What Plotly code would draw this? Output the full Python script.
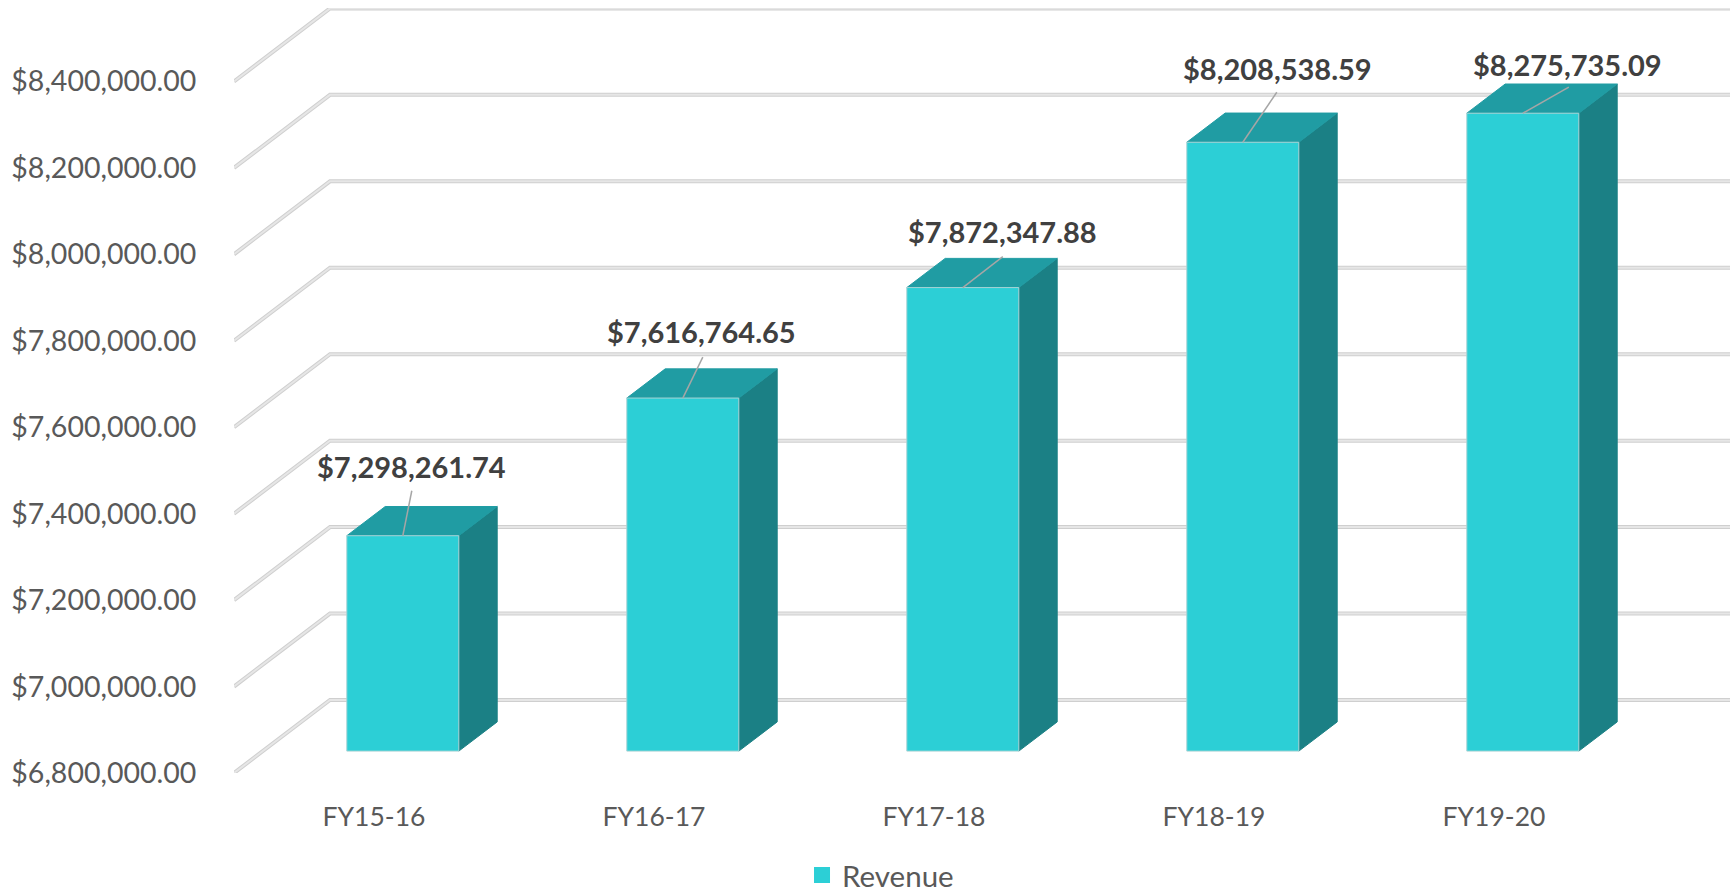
import plotly.graph_objects as go

categories = ["FY15-16", "FY16-17", "FY17-18", "FY18-19", "FY19-20"]
revenue = [7298261.74, 7616764.65, 7872347.88, 8208538.59, 8275735.09]
tick_values = [6800000, 7000000, 7200000, 7400000, 7600000, 7800000, 8000000, 8200000, 8400000]
series_name = "Revenue"

# pixel offsets of the data labels and leader ends from the bar's front-top centre
label_dx = [9, 19, 40, 35, 45]
label_dy = [-69, -67, -56, -74, -49]
leader_dx = [9, 20, 40, 34, 46]
leader_dy = [-45, -41, -31, -50, -26]

# layout in pixels
W, H = 1735, 896
L, R, T, B = 234, 5, 8, 123
SLOT = 280.0
PX_PER_VAL = 86.45 / 200000.0
DEPTH_PX_X, DEPTH_PX_Y = 96.0, 73.0

x_lo = -0.5
x_hi = x_lo + (W - L - R) / SLOT
y_lo = tick_values[0]
y_hi = y_lo + (H - T - B) / PX_PER_VAL
DX = DEPTH_PX_X / SLOT
DY = DEPTH_PX_Y / PX_PER_VAL

BAR_W = 0.4
D0, D1 = 0.3, 0.7
FRONT, TOP, SIDE = "#2CCFD6", "#209CA3", "#1B8085"
EDGE = "#A9D3D5"
FONT = "Lato"

fig = go.Figure()

# walls: floor/side diagonal + back wall line for each gridline
gx, gy = [], []
for v in tick_values:
    gx += [x_lo, x_lo + DX, x_hi, None]
    gy += [v, v + DY, v + DY, None]
for col, w in (("#CFCFCF", 4), ("#E6E6E6", 2)):
    fig.add_trace(go.Scatter(x=gx, y=gy, mode="lines", line=dict(color=col, width=w),
                             showlegend=False, hoverinfo="skip", cliponaxis=False))


def poly(xs, ys, fill, edge, name=None):
    fig.add_trace(go.Scatter(x=xs, y=ys, mode="lines", fill="toself", fillcolor=fill,
                             line=dict(color=edge, width=1), showlegend=False,
                             hoverinfo="skip", cliponaxis=False))


for i, v in enumerate(revenue):
    xl = i - BAR_W / 2 + D0 * DX
    xr = xl + BAR_W
    s = (D1 - D0) * DX
    base = y_lo + D0 * DY
    ytop = v + D0 * DY
    h = (D1 - D0) * DY
    poly([xr, xr + s, xr + s, xr, xr], [base, base + h, ytop + h, ytop, base], SIDE, SIDE)
    poly([xl, xr, xr + s, xl + s, xl], [ytop, ytop, ytop + h, ytop + h, ytop], TOP, TOP)
    poly([xl, xr, xr, xl, xl], [base, base, ytop, ytop, base], FRONT, EDGE)
    cx = (xl + xr) / 2
    fig.add_trace(go.Scatter(
        x=[cx, cx + leader_dx[i] / SLOT],
        y=[ytop, ytop - leader_dy[i] / PX_PER_VAL],
        mode="lines", line=dict(color="#A6A6A6", width=1.5),
        showlegend=False, hoverinfo="skip", cliponaxis=False))
    fig.add_annotation(x=cx, y=ytop, xref="x", yref="y", text=f"${v:,.2f}",
                       showarrow=False, xshift=label_dx[i], yshift=-label_dy[i],
                       font=dict(family=FONT, size=29, color="#404040", weight="bold"))

# legend entry
fig.add_trace(go.Scatter(x=[None], y=[None], mode="markers", name=series_name,
                         marker=dict(symbol="square", size=21, color=FRONT),
                         showlegend=True))

fig.update_layout(
    width=W, height=H, autosize=False,
    margin=dict(l=L, r=R, t=T, b=B),
    paper_bgcolor="white", plot_bgcolor="white",
    font=dict(family=FONT, color="#595959", size=28),
    xaxis=dict(range=[x_lo, x_hi], tickmode="array", tickvals=list(range(len(categories))),
               ticktext=categories, showgrid=False, zeroline=False, showline=False,
               ticks="outside", ticklen=20, tickcolor="rgba(0,0,0,0)",
               tickfont=dict(size=26.5, color="#595959")),
    yaxis=dict(range=[y_lo, y_hi], tickmode="array", tickvals=tick_values,
               tickformat="$,.2f", showgrid=False, zeroline=False, showline=False,
               ticks="outside", ticklen=31, tickcolor="rgba(0,0,0,0)",
               tickfont=dict(size=28.5, color="#595959")),
    legend=dict(orientation="h", x=0.5075, xref="container", xanchor="center",
                y=0.052, yref="container", yanchor="top",
                font=dict(size=29.5, color="#595959"), bgcolor="rgba(0,0,0,0)"),
)

fig.write_html("out.html", config={"displayModeBar": False},
               post_script="document.body.style.margin='0';document.body.style.overflow='hidden';")
